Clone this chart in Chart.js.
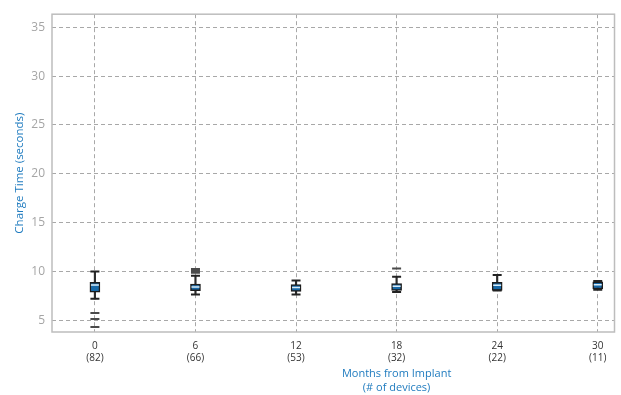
<!DOCTYPE html>
<html>
<head>
<meta charset="utf-8">
<script src="https://cdn.jsdelivr.net/npm/chart.js@4/dist/chart.umd.min.js"></script>
<style>
  html, body { margin: 0; padding: 0; background: #fff; }
  #wrap { width: 621px; height: 395px; }
</style>
</head>
<body>
<div id="wrap"><canvas id="chart"></canvas></div>
<script>
"use strict";

// months from implant and number of devices at each point
var months = [0, 6, 12, 18, 24, 30];
var devices = [82, 66, 53, 32, 22, 11];

// box plot statistics (seconds)
var q1 = [7.86, 8.03, 7.96, 8.06, 8.06, 8.2];
var q3 = [8.87, 8.71, 8.64, 8.74, 8.87, 8.94];
var medians = [8.61, 8.41, 8.34, 8.47, 8.57, 8.64];
var whiskerLow = [7.19, 7.63, 7.63, 7.9, 8.03, 8.13];
var whiskerHigh = [9.98, 9.55, 9.07, 9.45, 9.62, 9.01];
var outliers = [[5.74, 5.13, 4.29], [9.85, 10.05, 10.25], [], [10.29], [], []];

var yTicks = [5, 10, 15, 20, 25, 30, 35];

var FONT = "'Open Sans', sans-serif";
var BLUE = "#1f7bbf";

function pairs(lo, hi) {
  return months.map(function (m, i) { return { x: m, y: [lo[i], hi[i]] }; });
}
function points(vals) {
  return months.map(function (m, i) { return { x: m, y: vals[i] }; });
}
var outlierPts = [];
outliers.forEach(function (list, i) {
  list.forEach(function (v) { outlierPts.push({ x: months[i], y: v }); });
});
var caps = points(whiskerLow).concat(points(whiskerHigh));

// frame round the plot area + x axis title
var framePlugin = {
  id: "frame",
  afterDatasetsDraw: function (chart) {
    var a = chart.chartArea, ctx = chart.ctx;
    ctx.save();
    ctx.strokeStyle = "#bdbdbd";
    ctx.lineWidth = 1.5;
    ctx.strokeRect(a.left, a.top, a.right - a.left, a.bottom - a.top);
    ctx.restore();
  },
  afterDraw: function (chart) {
    var ctx = chart.ctx, xs = chart.scales.x;
    var cx = xs.getPixelForValue(18);
    ctx.save();
    ctx.fillStyle = BLUE;
    ctx.font = "11px " + FONT;
    ctx.textAlign = "center";
    ctx.textBaseline = "middle";
    ctx.fillText("Months from Implant", cx, 374);
    ctx.fillText("(# of devices)", cx, 388);
    ctx.restore();
  }
};

new Chart(document.getElementById("chart"), {
  type: "bar",
  plugins: [framePlugin],
  data: {
    datasets: [
      {
        label: "whisker",
        data: pairs(whiskerLow, whiskerHigh),
        backgroundColor: "#2b2b2b",
        barThickness: 1.5,
        grouped: false,
        order: 4
      },
      {
        label: "box",
        data: pairs(q1, q3),
        backgroundColor: "#1769a8",
        borderColor: "#1c1c1c",
        borderWidth: 1.5,
        borderSkipped: false,
        barThickness: 10,
        grouped: false,
        order: 3
      },
      {
        type: "scatter",
        label: "median",
        data: points(medians),
        pointStyle: "line",
        pointRadius: 4,
        borderColor: "#d8ecf8",
        borderWidth: 1.5,
        order: 2
      },
      {
        type: "scatter",
        label: "caps",
        data: caps,
        pointStyle: "line",
        pointRadius: 4.5,
        borderColor: "#222",
        borderWidth: 2,
        order: 1
      },
      {
        type: "scatter",
        label: "outliers",
        data: outlierPts,
        pointStyle: "line",
        pointRadius: 4.5,
        borderColor: "#4a4a4a",
        borderWidth: 2,
        order: 1
      }
    ]
  },
  options: {
    responsive: true,
    maintainAspectRatio: false,
    animation: false,
    layout: { padding: { top: 10, right: 5, left: 0, bottom: 0 } },
    plugins: { legend: { display: false }, tooltip: { enabled: false } },
    scales: {
      x: {
        type: "linear",
        offset: false,
        min: -2.56,
        max: 31.0,
        afterBuildTicks: function (s) {
          s.ticks = months.map(function (m) { return { value: m }; });
        },
        afterFit: function (s) { s.height = 63; },
        grid: { color: "#a8a8a8", offset: false, drawTicks: false },
        border: { display: false, dash: [4, 3] },
        ticks: {
          padding: 8,
          color: "#333",
          font: { size: 10, family: FONT },
          maxRotation: 0,
          callback: function (v) {
            var i = months.indexOf(v);
            return [String(v), "(" + devices[i] + ")"];
          }
        }
      },
      y: {
        min: 3.79,
        max: 36.35,
        afterBuildTicks: function (s) {
          s.ticks = yTicks.map(function (t) { return { value: t }; });
        },
        afterFit: function (s) { s.width = 52; },
        grid: { color: "#a8a8a8", drawTicks: false },
        border: { display: false, dash: [4, 3] },
        ticks: {
          padding: 7,
          color: "#a5a5a5",
          font: { size: 12, family: FONT }
        },
        title: {
          display: true,
          text: "Charge Time (seconds)",
          color: BLUE,
          font: { size: 11.5, family: FONT },
          padding: { top: 13, bottom: 0 }
        }
      }
    }
  }
});
</script>
</body>
</html>
